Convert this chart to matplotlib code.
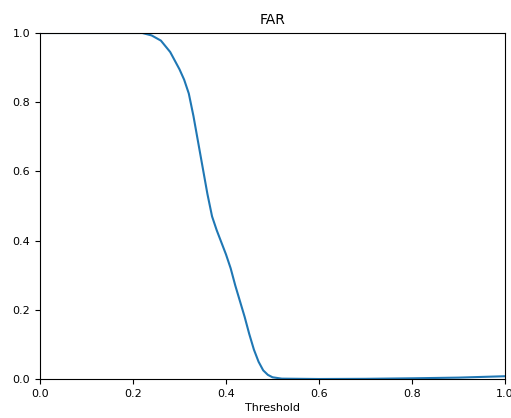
import matplotlib
matplotlib.use("Agg")
import matplotlib.pyplot as plt

thresholds = [0.00, 0.10, 0.20, 0.22, 0.24, 0.26, 0.28, 0.29, 0.30, 0.31, 0.32, 0.33,
              0.34, 0.35, 0.36, 0.37, 0.38, 0.39, 0.40, 0.41, 0.42, 0.43, 0.44, 0.45,
              0.46, 0.47, 0.48, 0.49, 0.50, 0.52, 0.60, 0.70, 0.80, 0.90, 1.00]
far = [1.0, 1.0, 1.0, 1.0, 0.993, 0.978, 0.945, 0.92, 0.895, 0.865, 0.825, 0.76,
       0.685, 0.61, 0.535, 0.47, 0.43, 0.395, 0.36, 0.32, 0.27, 0.225, 0.18, 0.13,
       0.085, 0.05, 0.025, 0.012, 0.005, 0.001, 0.0, 0.0005, 0.002, 0.004, 0.008]

plt.rcParams['font.size'] = 8
fig = plt.figure(figsize=(5.11, 4.18), dpi=100)
ax = fig.add_axes([40/511, 39/418, 465/511, 346/418])
ax.plot(thresholds, far, color='#1f77b4', linewidth=1.5)
ax.set_xlim(0, 1)
ax.set_ylim(0, 1)
ax.set_title("FAR", fontsize=10, pad=6.5)
ax.set_xlabel("Threshold", labelpad=3)
fig.savefig("out.png", dpi=100)
